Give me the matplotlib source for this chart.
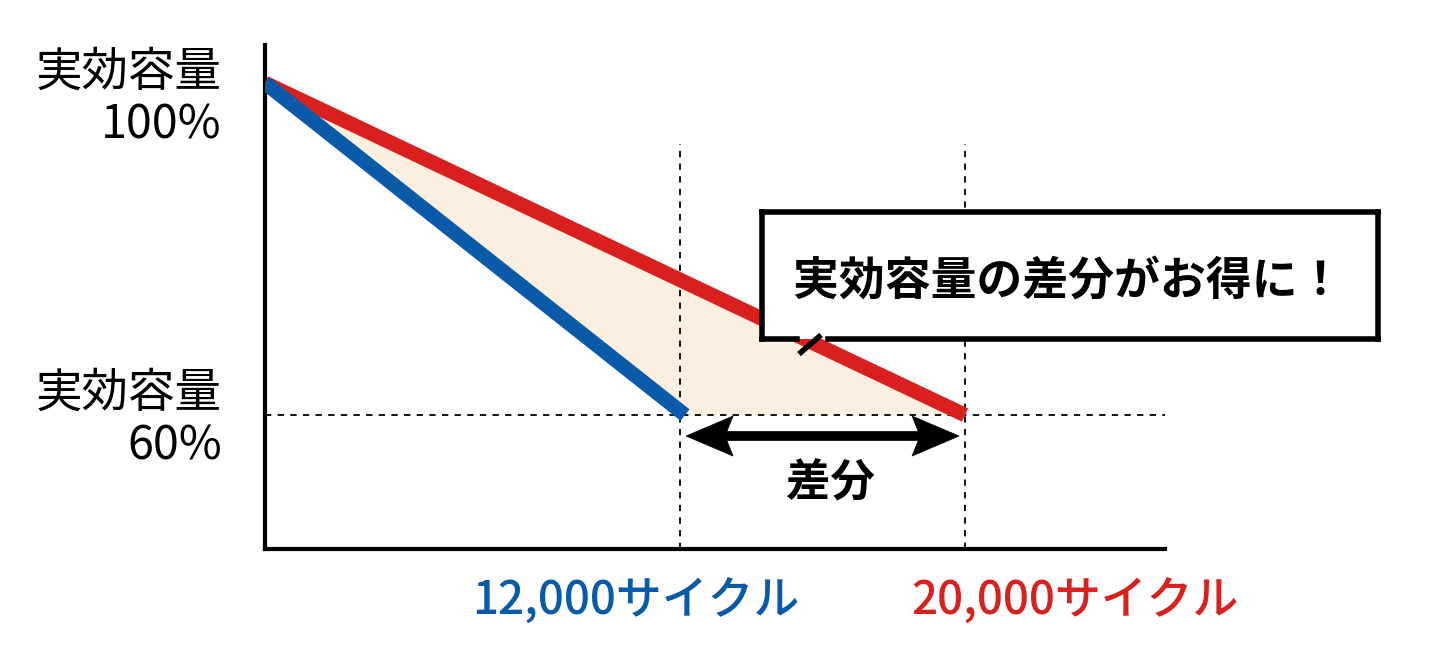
import matplotlib
matplotlib.use("Agg")
import matplotlib.pyplot as plt
from matplotlib.patches import Polygon
from matplotlib.lines import Line2D
from matplotlib.transforms import IdentityTransform

plt.rcParams['font.family'] = ['Noto Sans CJK JP', 'DejaVu Sans']

# ---- data ----
cycles_blue = [0, 12000]
capacity_blue = [100, 60]
cycles_red = [0, 20000]
capacity_red = [100, 60]
gain_x = [0, 12000, 20000]
gain_y = [100, 60, 60]
label_top = "実効容量\n100%"
label_bottom = "実効容量\n60%"
label_blue = "12,000サイクル"
label_red = "20,000サイクル"
callout_text = "実効容量の差分がお得に！"
diff_text = "差分"

BLUE = "#0A5AAA"
RED = "#D9201E"
FILL = "#FBF0E0"

W, H = 1437, 657
fig = plt.figure(figsize=(W / 100, H / 100), dpi=100)
fig.patch.set_facecolor("white")

def fx(px):
    return px / W

def fy(py):
    return 1 - py / H

ax_left, ax_right, ax_top, ax_bottom = 265, 1165, 45, 549
ax = fig.add_axes([fx(ax_left), fy(ax_bottom), (ax_right - ax_left) / W, (ax_bottom - ax_top) / H])
XMAX = 25714
YMIN, YMAX = 43.86, 104.58
ax.set_xlim(0, XMAX)
ax.set_ylim(YMIN, YMAX)
ax.set_facecolor("none")
for s in ["top", "right"]:
    ax.spines[s].set_visible(False)
for s in ["left", "bottom"]:
    ax.spines[s].set_linewidth(3.0)
    ax.spines[s].set_color("black")
ax.set_xticks([])
ax.set_yticks([])

# fill area
ax.fill(gain_x, gain_y, color=FILL, zorder=1, lw=0)

# dashed guides
ax.vlines([cycles_blue[1] - 150, cycles_red[1]], YMIN, 92.6, colors="black",
          linestyles=(0, (3.5, 3.5)), linewidth=1.3, zorder=2)
ax.hlines(capacity_red[1], 0, XMAX, colors="black",
          linestyles=(0, (3.5, 3.5)), linewidth=1.3, zorder=2)

# lines
ax.plot(cycles_red, capacity_red, color=RED, lw=10.5, solid_capstyle="butt", zorder=3)
ax.plot(cycles_blue, capacity_blue, color=BLUE, lw=10.5, solid_capstyle="butt", zorder=4)

# double arrow with concave heads (built in pixel space from data anchors)
fig.canvas.draw()
y_arrow = 57.47
lx, ly = ax.transData.transform((cycles_blue[1] + 30, y_arrow))
rx, ry = ax.transData.transform((cycles_red[1] - 170, y_arrow))
hl, hw, notch = 47, 20, 8
# in display coords (origin bottom-left, pixels at dpi 100)
left_head = [(lx, ly), (lx + hl, ly + hw), (lx + hl - notch, ly), (lx + hl, ly - hw)]
right_head = [(rx, ry), (rx - hl, ry + hw), (rx - hl + notch, ry), (rx - hl, ry - hw)]
for pts in (left_head, right_head):
    fig.patches.append(Polygon(pts, closed=True, transform=IdentityTransform(),
                               facecolor="black", edgecolor="black", lw=0.5, zorder=5))
fig.add_artist(Line2D([lx + hl - notch - 2, rx - hl + notch + 2], [ly, ry], color="black",
                      lw=7, transform=IdentityTransform(), solid_capstyle="butt", zorder=5))

ax.text((cycles_blue[1] + cycles_red[1]) / 2 + 150, 51.7, diff_text, ha="center", va="center",
        fontsize=32, fontweight="bold", color="black")

# left labels
fig.text(fx(222), fy(99), label_top, ha="right", va="center", fontsize=33.5,
         linespacing=1.1, multialignment="right", color="black")
fig.text(fx(222), fy(420), label_bottom, ha="right", va="center", fontsize=33.5,
         linespacing=1.1, multialignment="right", color="black")

# bottom labels
fig.text(fx(636), fy(600), label_blue, ha="center", va="center", fontsize=33,
         fontweight="medium", color=BLUE)
fig.text(fx(1075), fy(600), label_red, ha="center", va="center", fontsize=33,
         fontweight="medium", color=RED)

# callout box
bx0, bx1, by0, by1 = 762, 1378, 212, 339
lw_box = 4
segs = [
    [(bx0, by0), (bx1, by0)],
    [(bx1, by0), (bx1, by1)],
    [(bx0, by0), (bx0, by1)],
    [(bx0, by1), (797, by1)],
    [(828, by1), (bx1, by1)],
]
rect = plt.Rectangle((fx(bx0), fy(by1)), (bx1 - bx0) / W, (by1 - by0) / H,
                     transform=fig.transFigure, facecolor="white", edgecolor="none", zorder=10)
fig.patches.append(rect)
for (a, b) in segs:
    fig.add_artist(Line2D([fx(a[0]), fx(b[0])], [fy(a[1]), fy(b[1])], color="black",
                          lw=lw_box, solid_capstyle="projecting", zorder=11))
fig.add_artist(Line2D([fx(799), fx(821)], [fy(354), fy(335)], color="black",
                      lw=lw_box, solid_capstyle="butt", zorder=11))
fig.text(fx(1068), fy(282), callout_text, ha="center", va="center", fontsize=33,
         fontweight="bold", color="black", zorder=12)

fig.savefig("out.png", dpi=100, facecolor="white")
